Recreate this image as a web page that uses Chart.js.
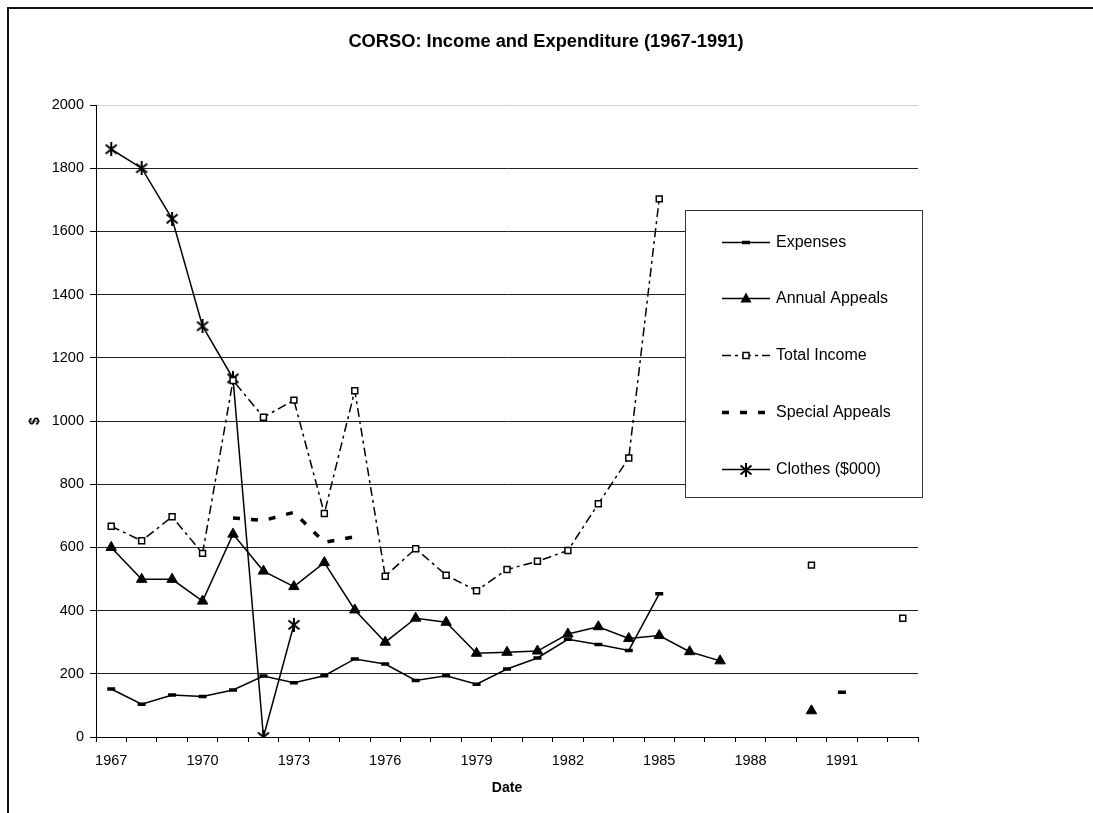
<!DOCTYPE html>
<html>
<head>
<meta charset="utf-8">
<script src="https://cdn.jsdelivr.net/npm/chart.js@4/dist/chart.umd.min.js"></script>
<style>
  html, body { margin: 0; padding: 0; background: #fff; overflow: hidden; }
  #wrap { position: relative; width: 1093px; height: 813px; }
  #frame { position: absolute; left: 7px; top: 7px; width: 1200px; height: 900px;
           border-left: 2px solid #111; border-top: 2px solid #111; box-sizing: border-box; pointer-events: none; }
  canvas { position: absolute; left: 0; top: 0; }
</style>
</head>
<body>
<div id="wrap">
  <canvas id="c" width="1093" height="813"></canvas>
  <div id="frame"></div>
</div>
<script>
// ---- data ----
const years = ['1967','1968','1969','1970','1971','1972','1973','1974','1975','1976','1977','1978','1979',
               '1980','1981','1982','1983','1984','1985','1986','1987','1988','1989','1990','1991','1992','1993'];
const xTickLabels = ['1967','1970','1973','1976','1979','1982','1985','1988','1991'];
const yTicks = [0, 200, 400, 600, 800, 1000, 1200, 1400, 1600, 1800, 2000];

const expenses = [152,104,133,128,149,193,172,194,247,231,179,194,167,215,250,309,293,274,453,
                  null,null,null,null,null,142,null,null];
const annualAppeals = [600,499,499,430,642,525,476,552,402,300,376,363,265,268,272,326,349,312,321,270,241,
                       null,null,83,null,null,null];
const totalIncome = [667,621,697,581,1128,1012,1066,707,1096,509,596,512,463,530,556,590,738,883,1703,
                     null,null,null,null,544,null,null,376];
const specialAppeals = [null,null,null,null,693,685,711,616,634,
                        null,null,null,null,null,null,null,null,null,null,null,null,null,null,null,null,null,null];
const clothes = [1860,1800,1640,1300,1135,0,355,
                 null,null,null,null,null,null,null,null,null,null,null,null,null,null,null,null,null,null,null,null];

const TITLE = 'CORSO: Income and Expenditure (1967-1991)';
const FONT = "'Liberation Sans', Arial, sans-serif";

// asterisk marker (Excel "star" marker)
function makeStar() {
  const c = document.createElement('canvas');
  c.width = 14; c.height = 14;
  const g = c.getContext('2d');
  g.strokeStyle = '#000'; g.lineWidth = 2;
  g.beginPath();
  g.moveTo(7, 0); g.lineTo(7, 14);
  g.moveTo(1.5, 2.5); g.lineTo(12.5, 11.5);
  g.moveTo(12.5, 2.5); g.lineTo(1.5, 11.5);
  g.stroke();
  return c;
}
const starImg = makeStar();

const datasets = [
  { label: 'Expenses', data: expenses, borderColor: '#000', borderWidth: 1.5,
    pointStyle: 'line', pointRadius: 4, pointBorderWidth: 3.5, pointBorderColor: '#000', pointBackgroundColor: '#000' },
  { label: 'Annual Appeals', data: annualAppeals, borderColor: '#000', borderWidth: 1.5,
    pointStyle: 'triangle', pointRadius: 6, pointBorderWidth: 1, pointBorderColor: '#000', pointBackgroundColor: '#000' },
  { label: 'Total Income', data: totalIncome, borderColor: '#000', borderWidth: 1.5, borderDash: [9,4,3,4],
    pointStyle: 'rect', pointRadius: 4.2, pointBorderWidth: 1.5, pointBorderColor: '#000', pointBackgroundColor: '#fff' },
  { label: 'Special Appeals', data: specialAppeals, borderColor: '#000', borderWidth: 3.5, borderDash: [7,11],
    borderCapStyle: 'butt', pointRadius: 0 },
  { label: 'Clothes ($000)', data: clothes, borderColor: '#000', borderWidth: 1.5,
    pointStyle: starImg, pointRadius: 7 }
];
datasets.forEach(d => { d.tension = 0; d.spanGaps = false; d.fill = false; d.pointHoverRadius = d.pointRadius; });

// title centred on the whole chart area (as in the reference)
const titlePlugin = {
  id: 'centerTitle',
  afterDraw(chart) {
    const ctx = chart.ctx;
    ctx.save();
    ctx.fillStyle = '#000';
    ctx.font = 'bold 18.3px ' + FONT;
    ctx.textAlign = 'center'; ctx.textBaseline = 'middle';
    ctx.fillText(TITLE, 546, 42);
    ctx.restore();
  }
};

// custom legend box drawn inside the plot like the reference
const legendPlugin = {
  id: 'boxLegend',
  afterDatasetsDraw(chart) {
    const ctx = chart.ctx;
    const bx = 685.5, by = 210.5, bw = 237, bh = 287;
    ctx.save();
    ctx.fillStyle = '#fff';
    ctx.fillRect(bx, by, bw, bh);
    ctx.strokeStyle = '#333'; ctx.lineWidth = 1; ctx.setLineDash([]);
    ctx.strokeRect(bx, by, bw, bh);
    const x0 = 722, x1 = 770, xm = 746;
    chart.data.datasets.forEach((ds, i) => {
      const y = Math.round(241.5 + 56.75 * i) + 0.5;
      ctx.strokeStyle = '#000';
      ctx.lineWidth = ds.borderWidth;
      ctx.lineCap = 'butt';
      ctx.setLineDash(ds.borderDash || []);
      ctx.beginPath(); ctx.moveTo(x0, y); ctx.lineTo(x1, y); ctx.stroke();
      ctx.setLineDash([]);
      if (ds.pointStyle === 'line') {
        ctx.lineWidth = ds.pointBorderWidth;
        ctx.beginPath(); ctx.moveTo(xm - 4, y); ctx.lineTo(xm + 4, y); ctx.stroke();
      } else if (ds.pointStyle === 'triangle') {
        ctx.fillStyle = '#000';
        ctx.beginPath(); ctx.moveTo(xm, y - 6); ctx.lineTo(xm + 5.5, y + 4); ctx.lineTo(xm - 5.5, y + 4); ctx.closePath(); ctx.fill();
      } else if (ds.pointStyle === 'rect') {
        ctx.fillStyle = '#fff'; ctx.lineWidth = 1.5;
        ctx.fillRect(xm - 3, y - 3, 6, 6); ctx.strokeRect(xm - 3, y - 3, 6, 6);
      } else if (ds.pointStyle instanceof HTMLCanvasElement) {
        ctx.drawImage(ds.pointStyle, Math.round(xm - 7), Math.round(y - 7));
      }
      ctx.fillStyle = '#000';
      ctx.font = '16px ' + FONT;
      ctx.textAlign = 'left'; ctx.textBaseline = 'middle';
      ctx.fillText(ds.label, 776, y + 0.5);
    });
    ctx.restore();
  }
};

new Chart(document.getElementById('c'), {
  type: 'line',
  data: { labels: years, datasets: datasets },
  plugins: [legendPlugin, titlePlugin],
  options: {
    responsive: false,
    animation: false,
    events: [],
    layout: { padding: { left: 23, right: 175, top: 105, bottom: 12 } },
    plugins: {
      legend: { display: false },
      tooltip: { enabled: false },
      title: { display: false }
    },
    scales: {
      x: {
        type: 'category',
        offset: true,
        afterFit(scale) { scale.height = 64; },
        grid: { offset: true, drawOnChartArea: false, drawTicks: true, tickLength: 5, color: '#000', tickColor: '#000' },
        border: { display: true, color: '#000', width: 1 },
        ticks: {
          autoSkip: false, maxRotation: 0, minRotation: 0, padding: 10, color: '#000',
          font: { family: FONT, size: 14.5 },
          callback(value) { const l = this.getLabelForValue(value); return xTickLabels.includes(l) ? l : ''; }
        },
        title: { display: true, text: 'Date', color: '#000', font: { family: FONT, size: 14, weight: 'bold', lineHeight: 1.2 },
                 padding: { top: 4, bottom: 4 } }
      },
      y: {
        min: 0, max: 2000,
        afterFit(scale) { scale.width = 73; },
        afterBuildTicks(scale) { scale.ticks = yTicks.map(v => ({ value: v })); },
        grid: {
          drawTicks: true, tickLength: 6, tickColor: '#000', lineWidth: 1,
          color(ctx) { return ctx.tick && ctx.tick.value === 2000 ? '#cfcfcf' : (ctx.tick && ctx.tick.value === 0 ? '#000' : '#222'); }
        },
        border: { display: true, color: '#000', width: 1 },
        ticks: { padding: 6, color: '#000', font: { family: FONT, size: 14.5 },
                 callback(value) { return String(value); } },
        title: { display: true, text: '$', color: '#000', font: { family: FONT, size: 14, weight: 'bold', lineHeight: 1.2 },
                 padding: { top: 4, bottom: 4 } }
      }
    }
  }
});
</script>
</body>
</html>
